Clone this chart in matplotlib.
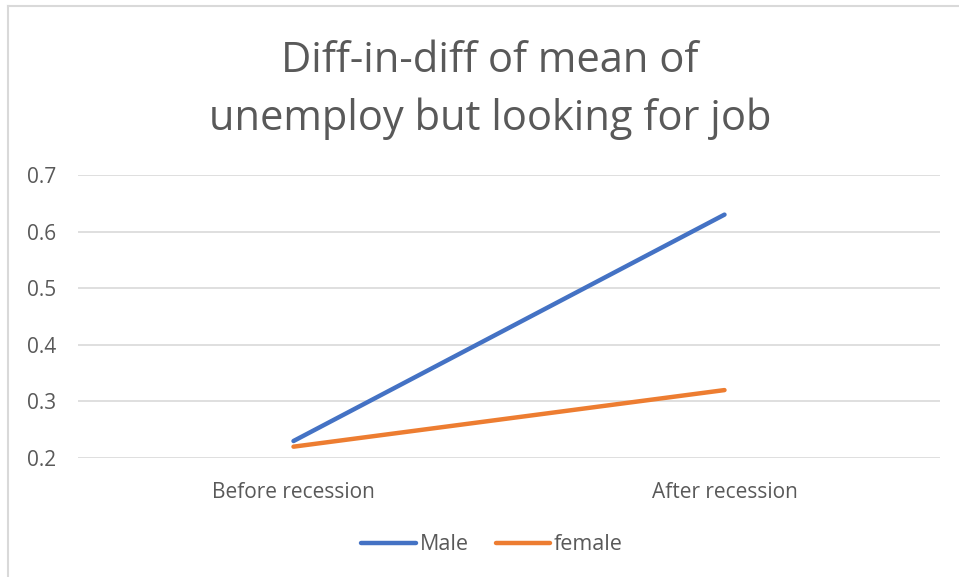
import matplotlib.pyplot as plt
from matplotlib.lines import Line2D

plt.rcParams['font.family'] = ['Open Sans', 'DejaVu Sans']

categories = ['Before recession', 'After recession']
male = [0.23, 0.63]
female = [0.22, 0.32]
yticks = [0.2, 0.3, 0.4, 0.5, 0.6, 0.7]

W, H = 959, 577
fig = plt.figure(figsize=(W / 100, H / 100), dpi=100)
ax = fig.add_axes([78 / W, 1 - 458 / H, (940 - 78) / W, (458 - 175) / H])

x = range(len(categories))
ax.plot(x, male, color='#4472C4', lw=3.2, solid_capstyle='round', label='Male')
ax.plot(x, female, color='#ED7D31', lw=3.2, solid_capstyle='round', label='female')

ax.set_xlim(-0.5, 1.5)
ax.set_ylim(0.2, 0.7)
ax.set_yticks(yticks)
ax.set_yticklabels([f'{v:.1f}' for v in yticks])
ax.set_xticks(list(x))
ax.set_xticklabels(categories)
ax.tick_params(length=0, labelsize=15, colors='#595959')
ax.tick_params(axis='y', pad=16)
ax.tick_params(axis='x', pad=17)
ax.grid(axis='y', color='#D9D9D9', lw=1.2)
ax.set_axisbelow(True)
for s in ax.spines.values():
    s.set_visible(False)

fig.text(490 / W, 1 - 90 / H, 'Diff-in-diff of mean of\nunemploy but looking for job',
         ha='center', va='center', fontsize=30, color='#595959', linespacing=1.45)

fig.legend(loc='center', bbox_to_anchor=(492 / W, 1 - 545 / H), ncol=2, frameon=False,
           fontsize=15.5, labelcolor='#595959', handlelength=2.55, handletextpad=0.15,
           columnspacing=1.25)

# chart border (only top and left visible in the reference)
fig.add_artist(Line2D([8 / W, 1], [1 - 6 / H, 1 - 6 / H], color='#D9D9D9', lw=1.5))
fig.add_artist(Line2D([8 / W, 8 / W], [0, 1 - 6 / H], color='#D9D9D9', lw=1.5))

fig.savefig('out.png', dpi=100)
